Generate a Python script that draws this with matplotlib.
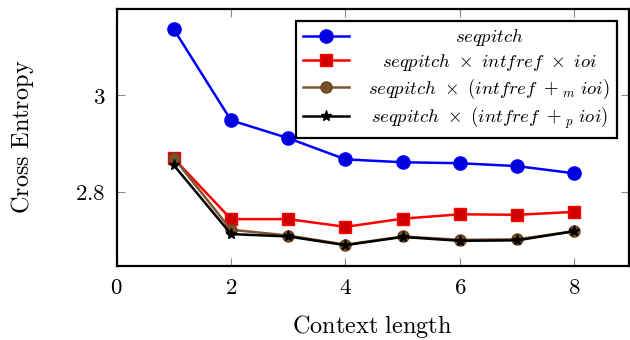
import matplotlib
matplotlib.use("Agg")
import matplotlib.pyplot as plt
from matplotlib.ticker import FuncFormatter
from matplotlib.transforms import Affine2D

plt.rcParams['mathtext.fontset'] = 'cm'
plt.rcParams['font.family'] = 'serif'
plt.rcParams['font.serif'] = ['DejaVu Serif']

context = [1, 2, 3, 4, 5, 6, 7, 8]
seqpitch = [3.137, 2.948, 2.911, 2.867, 2.861, 2.859, 2.853, 2.838]
seq_int_ioi = [2.869, 2.743, 2.743, 2.727, 2.744, 2.753, 2.752, 2.758]
seq_int_m_ioi = [2.870, 2.721, 2.709, 2.690, 2.707, 2.700, 2.701, 2.718]
seq_int_p_ioi = [2.855, 2.712, 2.707, 2.689, 2.706, 2.698, 2.699, 2.718]

labels = [r'$seqpitch$',
          r'$seqpitch\ \times\ intfref\ \times\ ioi$',
          r'$seqpitch\ \times\ (intfref\ +_m\ ioi)$',
          r'$seqpitch\ \times\ (intfref\ +_p\ ioi)$']

fig = plt.figure(figsize=(6.3, 3.4), dpi=100)
ax = fig.add_axes([0.185, 0.218, 0.813, 0.757])

ax.plot(context, seqpitch, color='#0000ff', lw=1.8, marker='o', ms=9.5,
        mfc='#0000dd', mec='#0000ff', label=labels[0])
ax.plot(context, seq_int_ioi, color='#ff0000', lw=1.8, marker='s', ms=8,
        mfc='#d00000', mec='#ff0000', label=labels[1])
ax.plot(context, seq_int_m_ioi, color='#7f5530', lw=1.8, marker='o', ms=8,
        mfc='#7a5028', mec='#6a4520', label=labels[2])
ax.plot(context, seq_int_p_ioi, color='black', lw=1.8, marker='*', ms=8,
        mfc='black', mec='black', label=labels[3])

ax.set_xlim(0, 8.95)
ax.set_ylim(2.646, 3.18)
ax.set_xticks([0, 2, 4, 6, 8])
ax.set_yticks([2.8, 3.0])
fmt = FuncFormatter(lambda v, p: f'${v:g}$')
ax.xaxis.set_major_formatter(fmt)
ax.yaxis.set_major_formatter(fmt)
ax.tick_params(direction='in', length=6, width=0.8, color='#888888',
               top=True, right=True, labelsize=16.5, pad=8)

for s in ax.spines.values():
    s.set_linewidth(1.6)

ax.set_xlabel(r'$\mathrm{Context\ length}$', fontsize=17.5, labelpad=10)
ax.set_ylabel(r'$\mathrm{Cross\ Entropy}$', fontsize=17.5, labelpad=28)

leg = ax.legend(loc='upper right', fontsize=13.5, frameon=True, fancybox=False,
                edgecolor='black', framealpha=1, handlelength=2.5,
                handletextpad=1.0, borderaxespad=0.65, labelspacing=0.2,
                borderpad=0.35)
leg.get_frame().set_linewidth(1.6)

# center the legend labels like the original
fig.canvas.draw()
r = fig.canvas.get_renderer()
widths = [t.get_window_extent(r).width for t in leg.get_texts()]
wmax = max(widths)
for t, w in zip(leg.get_texts(), widths):
    t.set_transform(t.get_transform() + Affine2D().translate((wmax - w) / 2, 0))

fig.savefig('out.png', dpi=100)
